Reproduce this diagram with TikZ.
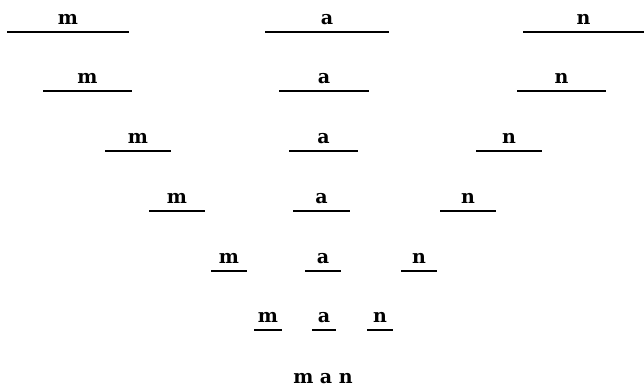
\documentclass[tikz,border=0pt]{standalone}
\usepackage{fontspec}
\setmainfont{DejaVu Serif}
\begin{document}
\begin{tikzpicture}[x=1pt, y=-1pt, line width=1.5pt]
    \tikzset{letter/.style={anchor=base, inner sep=0pt, font=\fontsize{19}{22}\selectfont\bfseries}}
    \useasboundingbox (0,0) rectangle (644,389);

    % 每行: 横线高度, m 线, a 线, n 线
    \foreach \r/\ly/\ma/\mb/\aa/\ab/\na/\nb in {
        1/32/7/129/265/389/523/644,
        2/91/43/132/279/369/517/606,
        3/151/105/171/289/358/476/542,
        4/211/149/205/293/350/440/496,
        5/271/211/247/305/341/401/437,
        6/330/254/282/312/336/367/393} {
        \draw (\ma,\ly) -- (\mb,\ly);
        \draw (\aa,\ly) -- (\ab,\ly);
        \draw (\na,\ly) -- (\nb,\ly);
        \node[letter] (m\r) at ({(\ma+\mb)/2}, {\ly-8}) {m};
        \node[letter] (a\r) at ({(\aa+\ab)/2}, {\ly-8}) {a};
        \node[letter] (n\r) at ({(\na+\nb)/2}, {\ly-8}) {n};
    }

    % 最后一行
    \node[letter] (man) at (323, 383) {m a n};
\end{tikzpicture}
\end{document}
